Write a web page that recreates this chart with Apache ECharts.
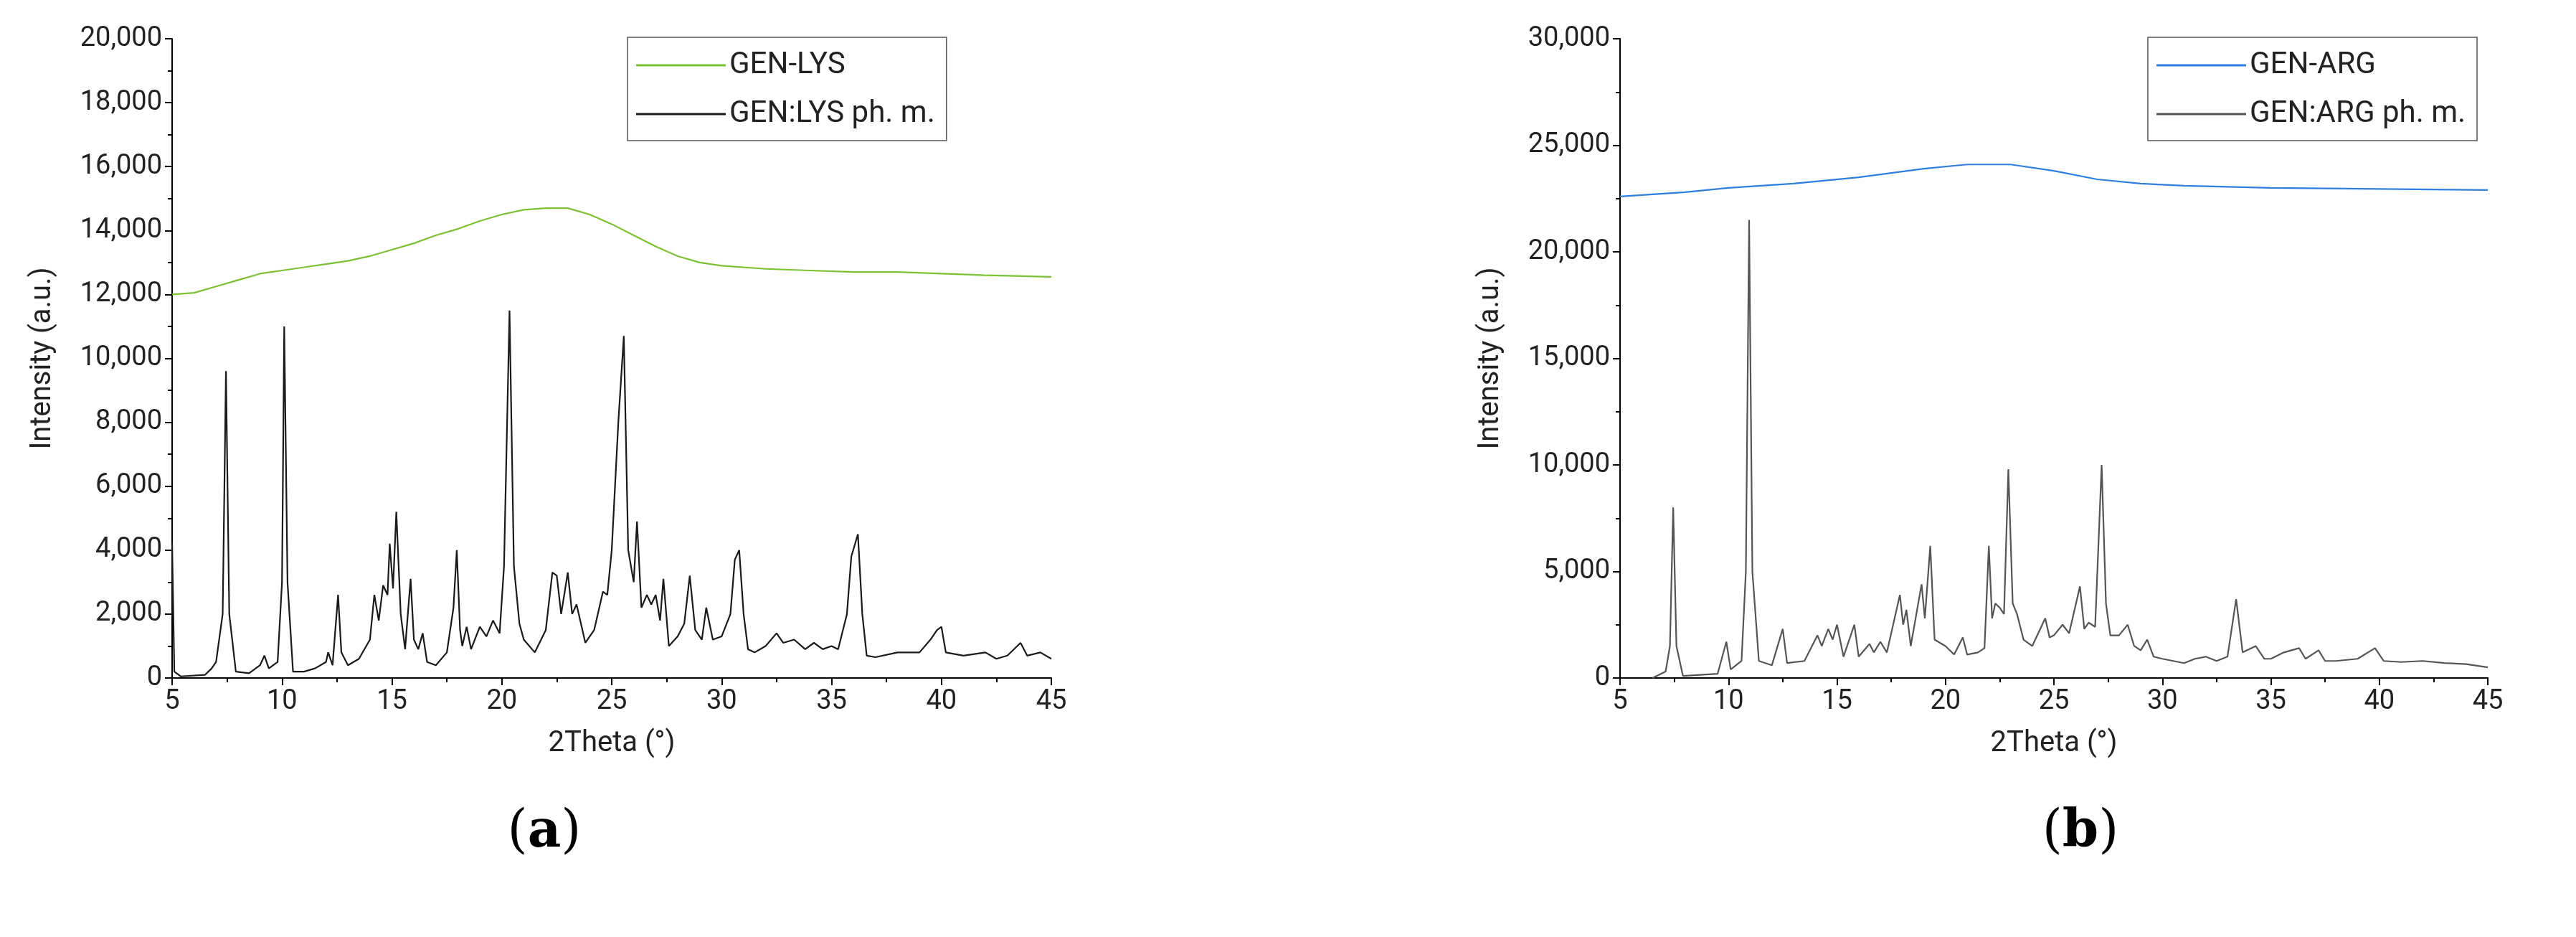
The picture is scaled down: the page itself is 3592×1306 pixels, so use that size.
<!DOCTYPE html>
<html><head><meta charset="utf-8">
<script src="https://cdn.jsdelivr.net/npm/echarts@6/dist/echarts.min.js"></script>
<style>html,body{margin:0;background:#fff}#main{width:3592px;height:1306px}</style>
</head><body><div id="main"></div>
<script>
// GEN-LYS amorphous
var lysAmorph = [[5,12000],[6,12050],[7,12250],[8,12450],[9,12650],[10,12750],[11,12850],[12,12950],[13,13050],[14,13200],[15,13400],[16,13600],[17,13850],[18,14050],[19,14300],[20,14500],[21,14650],[22,14700],[23,14700],[24,14500],[25,14200],[26,13850],[27,13500],[28,13200],[29,13000],[30,12900],[32,12800],[34,12750],[36,12700],[38,12700],[40,12650],[42,12600],[45,12550]];
// GEN:LYS physical mixture
var lysMix = [[5,4200],[5.1,200],[5.4,50],[6.5,100],[6.8,300],[7.0,500],[7.3,2000],[7.45,9600],[7.6,2000],[7.9,200],[8.5,150],[9.0,400],[9.2,700],[9.4,300],[9.8,500],[10.0,3000],[10.1,11000],[10.25,3000],[10.5,200],[11,200],[11.5,300],[12,500],[12.1,800],[12.3,400],[12.55,2600],[12.7,800],[13,400],[13.5,600],[14,1200],[14.2,2600],[14.4,1800],[14.6,2900],[14.8,2600],[14.9,4200],[15.05,2800],[15.2,5200],[15.4,2000],[15.6,900],[15.85,3100],[16.0,1200],[16.2,900],[16.4,1400],[16.6,500],[17,400],[17.5,800],[17.8,2200],[17.95,4000],[18.1,1500],[18.2,1000],[18.4,1600],[18.6,900],[19,1600],[19.3,1300],[19.6,1800],[19.9,1400],[20.1,3500],[20.35,11500],[20.55,3500],[20.8,1700],[21.0,1200],[21.5,800],[22,1500],[22.3,3300],[22.5,3200],[22.7,2000],[23.0,3300],[23.2,2000],[23.4,2300],[23.8,1100],[24.2,1500],[24.6,2700],[24.8,2600],[25.0,4000],[25.3,8000],[25.55,10700],[25.75,4000],[26.0,3000],[26.15,4900],[26.35,2200],[26.6,2600],[26.8,2300],[27.0,2600],[27.2,1800],[27.35,3100],[27.6,1000],[28,1300],[28.3,1700],[28.55,3200],[28.8,1500],[29.1,1200],[29.3,2200],[29.6,1200],[30.0,1300],[30.4,2000],[30.6,3700],[30.8,4000],[31.0,2000],[31.2,900],[31.5,800],[32,1000],[32.5,1400],[32.8,1100],[33.3,1200],[33.8,900],[34.2,1100],[34.6,900],[35.0,1000],[35.3,900],[35.7,2000],[35.9,3800],[36.2,4500],[36.4,2000],[36.6,700],[37,650],[38,800],[39,800],[39.5,1200],[39.8,1500],[40.0,1600],[40.2,800],[41,700],[42,800],[42.5,600],[43,700],[43.6,1100],[43.9,700],[44.5,800],[45,600]];
// GEN-ARG amorphous
var argAmorph = [[5,22600],[8,22800],[10,23000],[13,23200],[16,23500],[19,23900],[21,24100],[23,24100],[25,23800],[27,23400],[29,23200],[31,23100],[35,23000],[40,22950],[45,22900]];
// GEN:ARG physical mixture
var argMix = [[6.5,0],[7.1,300],[7.3,1500],[7.45,8000],[7.6,1500],[7.9,100],[9.5,200],[9.9,1700],[10.1,400],[10.6,800],[10.8,5000],[10.95,21500],[11.1,5000],[11.4,800],[12,600],[12.5,2300],[12.7,700],[13.5,800],[14.1,2000],[14.3,1500],[14.6,2300],[14.8,1800],[15.0,2500],[15.3,1000],[15.8,2500],[16.0,1000],[16.5,1600],[16.7,1200],[17,1700],[17.3,1200],[17.9,3900],[18.05,2500],[18.2,3200],[18.4,1500],[18.9,4400],[19.05,2800],[19.3,6200],[19.5,1800],[20,1500],[20.4,1100],[20.8,1900],[21.0,1100],[21.5,1200],[21.8,1400],[22.0,6200],[22.15,2800],[22.3,3500],[22.5,3300],[22.7,3000],[22.9,9800],[23.1,3500],[23.3,3000],[23.6,1800],[24,1500],[24.6,2800],[24.8,1900],[25.0,2000],[25.4,2500],[25.7,2100],[26.2,4300],[26.4,2300],[26.6,2600],[26.9,2400],[27.2,10000],[27.4,3500],[27.6,2000],[28.0,2000],[28.4,2500],[28.7,1500],[29.0,1300],[29.3,1800],[29.6,1000],[30,900],[31,700],[31.5,900],[32,1000],[32.5,800],[33.0,1000],[33.4,3700],[33.7,1200],[34.3,1500],[34.7,900],[35,900],[35.6,1200],[36.3,1400],[36.6,900],[37.2,1300],[37.5,800],[38,800],[39,900],[39.8,1400],[40.2,800],[41,750],[42,800],[43,700],[44,650],[45,500]];

var font = 'Roboto, "Liberation Sans", sans-serif';
function xAxis(idx) {
	return {
		gridIndex : idx, type : 'value', min : 5, max : 45, interval : 5,
		name : '2Theta (°)', nameLocation : 'middle', nameGap : 72,
		nameTextStyle : { fontSize : 40, color : '#222', fontFamily : font },
		axisLine : { lineStyle : { color : '#000', width : 2 } },
		axisTick : { length : 10, lineStyle : { color : '#000', width : 2 } },
		minorTick : { show : true, splitNumber : 2, length : 6, lineStyle : { color : '#000', width : 2 } },
		axisLabel : { fontSize : 38, color : '#222', fontFamily : font, margin : 14 },
		splitLine : { show : false }
	};
}
function yAxis(idx, max, step) {
	return {
		gridIndex : idx, type : 'value', min : 0, max : max, interval : step,
		name : 'Intensity (a.u.)', nameLocation : 'middle', nameGap : 160,
		nameTextStyle : { fontSize : 40, color : '#222', fontFamily : font },
		axisLine : { show : true, lineStyle : { color : '#000', width : 2 } },
		axisTick : { length : 10, lineStyle : { color : '#000', width : 2 } },
		minorTick : { show : true, splitNumber : 2, length : 6, lineStyle : { color : '#000', width : 2 } },
		axisLabel : { fontSize : 38, color : '#222', fontFamily : font, margin : 14,
			formatter : function(v) { return v.toLocaleString('en-US'); } },
		splitLine : { show : false }
	};
}
function line(name, data, color, xi) {
	return { name : name, type : 'line', data : data, xAxisIndex : xi, yAxisIndex : xi,
		showSymbol : false, lineStyle : { color : color, width : 2.2 }, itemStyle : { color : color } };
}
var legendBase = {
	orient : 'vertical', itemWidth : 125, itemHeight : 3, itemGap : 26,
	borderColor : '#555', borderWidth : 1.5, padding : [18, 16, 16, 12],
	textStyle : { fontSize : 42, color : '#222', fontFamily : font }, icon : 'rect'
};
var option = {
	animation : false,
	grid : [
		{ left : 240, top : 54, width : 1226, height : 891 },
		{ left : 2259, top : 54, width : 1210, height : 891 }
	],
	xAxis : [ xAxis(0), xAxis(1) ],
	yAxis : [ yAxis(0, 20000, 2000), yAxis(1, 30000, 5000) ],
	legend : [
		Object.assign({ left : 875, top : 52, data : ['GEN-LYS', 'GEN:LYS ph. m.'] }, legendBase),
		Object.assign({ left : 2995, top : 52, data : ['GEN-ARG', 'GEN:ARG ph. m.'] }, legendBase)
	],
	title : [
		{ text : '({b|a})', left : 754, top : 1120, textAlign : 'center',
			textStyle : { fontSize : 72, fontWeight : 'normal', fontFamily : '"DejaVu Serif", serif', color : '#000',
				rich : { b : { fontSize : 72, fontWeight : 'bold', fontFamily : '"DejaVu Serif", serif' } } } },
		{ text : '({b|b})', left : 2896, top : 1120, textAlign : 'center',
			textStyle : { fontSize : 72, fontWeight : 'normal', fontFamily : '"DejaVu Serif", serif', color : '#000',
				rich : { b : { fontSize : 72, fontWeight : 'bold', fontFamily : '"DejaVu Serif", serif' } } } }
	],
	series : [
		line('GEN-LYS', lysAmorph, '#7ac231', 0),
		line('GEN:LYS ph. m.', lysMix, '#1a1a1a', 0),
		line('GEN-ARG', argAmorph, '#2d7fe0', 1),
		line('GEN:ARG ph. m.', argMix, '#555555', 1)
	]
};
var myChart = echarts.init(document.getElementById('main'));
myChart.setOption(option, true);
</script></body></html>
